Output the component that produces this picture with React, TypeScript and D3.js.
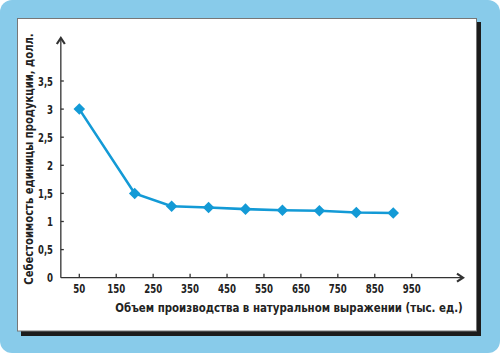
import React from 'react';
import * as d3 from 'd3';

const volumes = [50, 200, 300, 400, 500, 600, 700, 800, 900];
const costs = [3.0, 1.5, 1.27, 1.25, 1.22, 1.2, 1.19, 1.16, 1.15];
const xTicks = [50, 150, 250, 350, 450, 550, 650, 750, 850, 950];
const yTicks = [0, 0.5, 1, 1.5, 2, 2.5, 3, 3.5];
const xTitle = 'Объем производства в натуральном выражении (тыс. ед.)';
const yTitle = 'Себестоимость единицы продукции, долл.';

const W = 500;
const H = 353;
const font = '"DejaVu Sans Condensed", "Liberation Sans Narrow", sans-serif';
const blue = '#139ad6';

const App = () => {
    const x = d3.scaleLinear().domain([50, 950]).range([79.3, 411.7]);
    const y = d3.scaleLinear().domain([0, 3.5]).range([277.7, 81]);
    const x0 = x(0);
    const y0 = y(0);
    const pts = volumes.map((v, i) => [x(v), y(costs[i])] as [number, number]);
    const line = d3.line();
    const diamond = d3.symbol().type(d3.symbolDiamond2).size(85);

    return (
        <div style={{ position: 'fixed', left: 0, top: 0 }}>
            <svg width={W} height={H} style={{ display: 'block' }}>
                <rect x={0} y={0} width={W} height={H} rx={12} fill="#88cbea" />
                <rect x={21} y={22} width={460} height={314} fill="#1c1c1c" />
                <rect x={17.5} y={18.5} width={459} height={312.5} fill="#ffffff" stroke="#777" strokeWidth={1} />

                {/* axes */}
                <g stroke="#333" strokeWidth={1.3} fill="none">
                    <line x1={x0} y1={y0} x2={x0} y2={38} />
                    <line x1={x0} y1={y0} x2={463} y2={y0} />
                    <path d={`M${x0 - 4},${44} L${x0},${38} L${x0 + 4},${44}`} strokeWidth={2.2} />
                    <path d={`M${457},${y0 - 4} L${463},${y0} L${457},${y0 + 4}`} strokeWidth={2.2} />
                    {xTicks.map(t => (
                        <line key={t} x1={x(t)} x2={x(t)} y1={y0 - 4} y2={y0} />
                    ))}
                    {yTicks.filter(t => t > 0).map(t => (
                        <line key={t} x1={x0} x2={x0 + 3} y1={y(t)} y2={y(t)} />
                    ))}
                </g>

                <g fontFamily={font} fontWeight="bold" fontSize={12.5} fill="#222">
                    {xTicks.map(t => (
                        <text key={t} x={x(t)} y={293} textAnchor="middle"
                            textLength={String(t).length === 2 ? 12 : 18} lengthAdjust="spacingAndGlyphs">{t}</text>
                    ))}
                    {yTicks.map(t => {
                        const s = String(t).replace('.', ',');
                        return (
                            <text key={t} x={53} y={y(t) + 4.5} textAnchor="end"
                                textLength={s.length === 1 ? 6 : 15} lengthAdjust="spacingAndGlyphs">{s}</text>
                        );
                    })}
                    <text transform="translate(289,312) scale(0.875,1)" textAnchor="middle" fontSize={13}>{xTitle}</text>
                    <text transform="translate(33,159) rotate(-90) scale(0.86,1)" textAnchor="middle" fontSize={13}>{yTitle}</text>
                </g>

                <path d={line(pts) ?? ''} fill="none" stroke={blue} strokeWidth={2.6} />
                {pts.map((p, i) => (
                    <path key={i} d={diamond() ?? ''} transform={`translate(${p[0]},${p[1]})`} fill={blue} />
                ))}
            </svg>
        </div>
    );
};

export default App;
